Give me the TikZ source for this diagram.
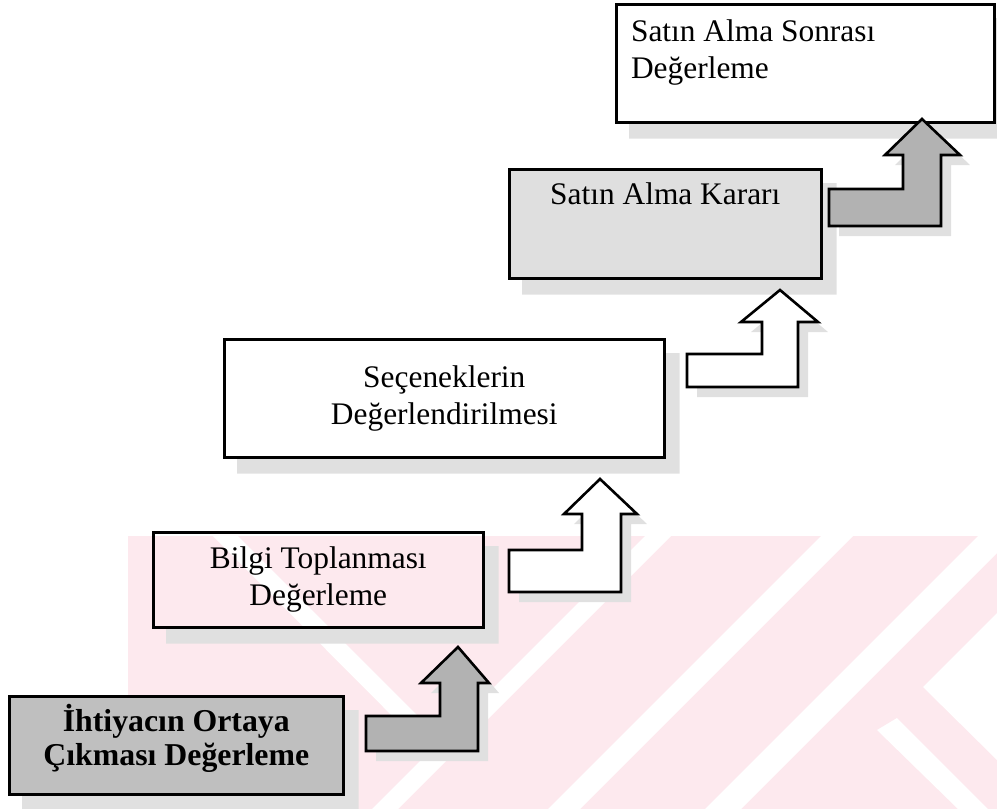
\documentclass[tikz,border=0pt]{standalone}
\usepackage{fontspec}
\setmainfont{Liberation Serif}
\usetikzlibrary{positioning,calc,backgrounds}
\definecolor{wmpink}{RGB}{253,233,238}
\tikzset{
  stage/.style={draw, line width=1.3pt, inner sep=0pt, anchor=north west, align=center},
  drop/.style={fill=gray!24},
  bentarrow/.style={draw, line width=1.3pt, line join=miter},
}

\begin{document}
\begin{tikzpicture}[x=0.5pt, y=-0.5pt, font=\fontsize{15.7}{18.5}\selectfont]
\useasboundingbox (0,0) rectangle (997,809);
% steps, from the bottom up
\node[stage, fill=gray!50, minimum width=167pt, minimum height=49pt] (ihtiyac) at (8,695) {};
\node[below=1pt of ihtiyac.north, align=center, font=\fontsize{15.9}{17}\selectfont\bfseries] (ihtiyacText) {İhtiyacın Ortaya\\Çıkması Değerleme};
\node[stage, minimum width=165pt, minimum height=47.5pt] (bilgi) at (152,531) {Bilgi Toplanması\\Değerleme};
\node[stage, minimum width=220pt, minimum height=59pt] (secenek) at (223,338) {Seçeneklerin\\Değerlendirilmesi};
\node[stage, fill=gray!25, minimum width=156pt, minimum height=54.5pt] (karar) at (508,168) {};
\node[below=4pt of karar.north] (kararText) {Satın Alma Kararı};
\node[stage, minimum width=189pt, minimum height=59pt] (sonrasi) at (615,3) {};
\node[anchor=north west, align=left] (sonrasiText) at ([xshift=4.5pt, yshift=-5pt]sonrasi.north west) {Satın Alma Sonrası\\Değerleme};
% bent arrows between the steps
\foreach \bl/\bt/\bb/\sl/\sr/\hy/\hl/\hr/\tx/\ty/\col in {
    366/716/751/440/478/683/421/489/458/647/gray!60,
    509/550/592/582/621/514/564/637/600/479/white,
    687/354/387/762/798/322/741/818/780/290/white,
    829/189/226/903/941/155/885/960/922/119/gray!60} {
  \fill[drop, shift={(10,10)}] (\bl,\bt) -- (\sl,\bt) -- (\sl,\hy) -- (\hl,\hy) -- (\tx,\ty) -- (\hr,\hy) -- (\sr,\hy) -- (\sr,\bb) -- (\bl,\bb) -- cycle;
  \draw[bentarrow, fill=\col] (\bl,\bt) -- (\sl,\bt) -- (\sl,\hy) -- (\hl,\hy) -- (\tx,\ty) -- (\hr,\hy) -- (\sr,\hy) -- (\sr,\bb) -- (\bl,\bb) -- cycle;
}
\begin{pgfonlayer}{background}
  % watermark
  \fill[wmpink] (128,536) rectangle (997,809);
  \foreach \x/\w in {372/26,548/32,705/36}
    \fill[white] (\x,809) -- (\x+\w,809) -- (\x+\w+273,536) -- (\x+273,536) -- cycle;
  \fill[white] (213,536) -- (238,536) -- (454,752) -- (441,765) -- cycle;
  \fill[white] (877,730) -- (897,718) -- (988,809) -- (958,809) -- cycle;
  \fill[white] (923,687) -- (997,613) -- (997,760) -- cycle;
  % shadows of the steps
  \foreach \n in {ihtiyac,bilgi,secenek,karar,sonrasi}
    \fill[drop] ($(\n.north east)+(0,15)$) -- ($(\n.north east)+(14,15)$) -- ($(\n.south east)+(14,15)$) -- ($(\n.south west)+(14,15)$) -- ($(\n.south west)+(14,0)$) -- (\n.south east) -- cycle;
\end{pgfonlayer}
\end{tikzpicture}
\end{document}
